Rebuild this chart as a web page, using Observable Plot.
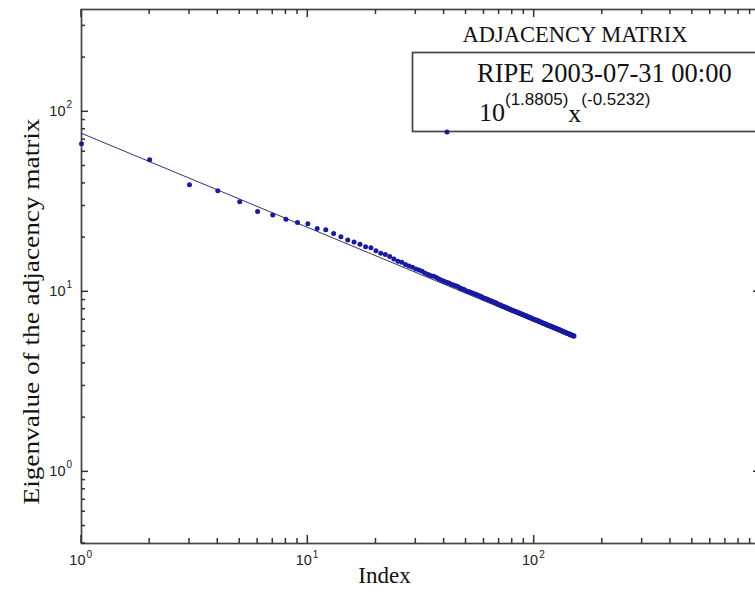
<!DOCTYPE html>
<html><head><meta charset="utf-8">
<script src="https://cdn.jsdelivr.net/npm/d3@7"></script>
<script src="https://cdn.jsdelivr.net/npm/@observablehq/plot@0.6"></script>
<style>
html,body{margin:0;padding:0;overflow:hidden;background:#fff;width:755px;height:603px}
#wrap{position:relative;width:755px;height:603px;overflow:hidden}
#wrap > svg{position:absolute;left:0;top:0;margin:0;max-width:none !important}
#legend{position:absolute;left:0;top:0;pointer-events:none}
</style></head><body><div id="wrap"></div>
<script>
// Eigenvalues of the adjacency matrix, in rank order (index 1 .. 150)
const eigenvalues = [
  66.4, 54.1, 39.3, 36.4, 31.6, 27.9, 26.7, 25.3, 24.3, 23.9,
  22.5, 22.1, 21.1, 20.2, 19.4, 18.9, 18.4, 17.8, 17.6, 16.9,
  16.4, 16.1, 15.7, 15.2, 14.8, 14.6, 14.2, 13.9, 13.7, 13.4,
  13.2, 13.0, 12.7, 12.5, 12.3, 12.2, 12.0, 11.8, 11.6, 11.45,
  11.3, 11.2, 11.0, 10.9, 10.8, 10.7, 10.5, 10.4, 10.3, 10.15,
  10.05, 9.98, 9.88, 9.80, 9.68, 9.62, 9.52, 9.45, 9.33, 9.22,
  9.18, 9.08, 9.02, 8.94, 8.86, 8.80, 8.72, 8.66, 8.55, 8.48,
  8.44, 8.38, 8.30, 8.26, 8.18, 8.14, 8.06, 8.02, 7.95, 7.90,
  7.86, 7.81, 7.76, 7.72, 7.66, 7.62, 7.58, 7.52, 7.48, 7.43,
  7.40, 7.36, 7.31, 7.28, 7.23, 7.19, 7.15, 7.11, 7.07, 7.03,
  7.00, 6.97, 6.93, 6.90, 6.86, 6.82, 6.79, 6.75, 6.72, 6.68,
  6.66, 6.63, 6.60, 6.57, 6.53, 6.50, 6.48, 6.45, 6.42, 6.39,
  6.37, 6.34, 6.31, 6.29, 6.26, 6.23, 6.21, 6.18, 6.16, 6.13,
  6.11, 6.08, 6.06, 6.03, 6.01, 5.98, 5.96, 5.94, 5.91, 5.89,
  5.87, 5.85, 5.83, 5.80, 5.78, 5.76, 5.74, 5.72, 5.70, 5.68
];
// Power-law fit shown in the legend: 10^(1.8805) x^(-0.5232)
const fitLog10Coef = 1.8805;
const fitExponent = -0.5232;
const fitRange = [1, 150];

const xMajorTicks = [1, 10, 100, 1000];
const xMinorTicks = [2,3,4,5,6,7,8,9, 20,30,40,50,60,70,80,90, 200,300,400,500,600,700,800,900];
const xTickLabels = [{v: 1, e: "0"}, {v: 10, e: "1"}, {v: 100, e: "2"}];
const yMajorTicks = [1, 10, 100];
const yMinorTicks = [0.4,0.5,0.6,0.7,0.8,0.9, 2,3,4,5,6,7,8,9, 20,30,40,50,60,70,80,90, 200,300];
const yTickLabels = [{v: 1, e: "0"}, {v: 10, e: "1"}, {v: 100, e: "2"}];

const xLabel = "Index";
const yLabel = "Eigenvalue of the adjacency matrix";
const legendTitle = "ADJACENCY MATRIX";
const legendSeries = "RIPE 2003-07-31 00:00";
const legendFitBase = "10", legendFitCoef = "(1.8805)", legendFitVar = "x", legendFitExp = "(-0.5232)";

const data = eigenvalues.map((v, i) => ({index: i + 1, value: v}));
const fit = fitRange.map(x => ({x, y: Math.pow(10, fitLog10Coef) * Math.pow(x, fitExponent)}));

const axisColor = "#444";
const serif = "'Liberation Serif', 'Times New Roman', serif";
const sans = "'Liberation Sans', Arial, sans-serif";

// the plot's right border lies just beyond the 755px window, as in the original
const W = 755, H = 603, mL = 81, mR = -5, mT = 9, mB = 60;

const chart = Plot.plot({
  width: W, height: H,
  marginLeft: mL, marginRight: mR, marginTop: mT, marginBottom: mB,
  x: {type: "log", domain: [1, 1000], axis: null},
  y: {type: "log", domain: [0.4, 370], axis: null},
  style: {background: "transparent", overflow: "visible", fontFamily: sans, maxWidth: "none"},
  marks: [
    Plot.frame({fill: "none", stroke: axisColor, strokeWidth: 1.7}),
    Plot.text(xTickLabels, {x: "v", frameAnchor: "bottom", dy: 21, dx: 4, text: () => "10", textAnchor: "end", fontSize: 14.5, fill: "#222"}),
    Plot.text(xTickLabels, {x: "v", frameAnchor: "bottom", dy: 14, dx: 5, text: "e", textAnchor: "start", fontSize: 10, fill: "#222"}),
    Plot.text(yTickLabels, {y: "v", frameAnchor: "left", dx: -16, text: () => "10", textAnchor: "end", fontSize: 14.5, fill: "#222"}),
    Plot.text(yTickLabels, {y: "v", frameAnchor: "left", dx: -15, dy: -7, text: "e", textAnchor: "start", fontSize: 10, fill: "#222"}),
    Plot.text([xLabel], {frameAnchor: "bottom-left", dx: 303, dy: 39, textAnchor: "middle", fontSize: 23, fontFamily: serif, fill: "#111"}),
    Plot.text([yLabel], {frameAnchor: "left", dx: -50, dy: 35, rotate: -90, textAnchor: "middle", fontSize: 23, fontFamily: serif, fill: "#111", className: "ylabel"}),
    Plot.line(fit, {x: "x", y: "y", stroke: "#34346e", strokeWidth: 1}),
    Plot.dot(data, {x: "index", y: "value", r: 2.5, fill: "#1a1aa0", stroke: "none"})
  ]
});
const csel = d3.select(chart);
csel.select("g.ylabel text").attr("textLength", 386).attr("lengthAdjust", "spacingAndGlyphs");

// Inward ticks on all four sides, positioned through Plot's own x and y scales
const sx = chart.scale("x"), sy = chart.scale("y");
const [fL, fR] = sx.range, [fB, fT] = sy.range;
const tg = csel.append("g").attr("stroke", "#333").attr("stroke-width", 1.5);
function xTicks(vals, len) {
  for (const v of vals) {
    const px = sx.apply(v);
    tg.append("line").attr("x1", px).attr("x2", px).attr("y1", fB).attr("y2", fB - len);
    tg.append("line").attr("x1", px).attr("x2", px).attr("y1", fT).attr("y2", fT + len);
  }
}
function yTicks(vals, len) {
  for (const v of vals) {
    const py = sy.apply(v);
    tg.append("line").attr("y1", py).attr("y2", py).attr("x1", fL).attr("x2", fL + len);
    tg.append("line").attr("y1", py).attr("y2", py).attr("x1", fR).attr("x2", fR - len);
  }
}
xTicks(xMinorTicks, 5); xTicks(xMajorTicks, 8);
yTicks(yMinorTicks, 4); yTicks(yMajorTicks, 7);
document.getElementById("wrap").appendChild(chart);

// Legend (overlay box, as in the original)
const leg = d3.create("svg").attr("id", "legend").attr("width", 755).attr("height", 160);
leg.append("text").attr("x", 575).attr("y", 42).attr("text-anchor", "middle")
  .attr("font-family", serif).attr("font-size", 22.5).attr("fill", "#111").text(legendTitle);
leg.append("rect").attr("x", 412.5).attr("y", 52.5).attr("width", 345).attr("height", 79)
  .attr("fill", "#fff").attr("stroke", axisColor).attr("stroke-width", 1.7);
leg.append("text").attr("x", 477).attr("y", 82).attr("font-family", serif).attr("font-size", 26.5)
  .attr("fill", "#111").text(legendSeries);
const f = leg.append("text").attr("x", 479).attr("y", 121).attr("font-family", serif).attr("font-size", 26).attr("fill", "#111");
f.append("tspan").text(legendFitBase);
f.append("tspan").attr("font-family", sans).attr("font-size", 17).attr("dy", -16).text(legendFitCoef);
f.append("tspan").attr("dy", 17).text(legendFitVar);
f.append("tspan").attr("font-family", sans).attr("font-size", 17).attr("dy", -17).text(legendFitExp);
leg.append("circle").attr("cx", 447).attr("cy", 132).attr("r", 2.5).attr("fill", "#1a1aa0");
document.getElementById("wrap").appendChild(leg.node());
</script>
</body></html>
